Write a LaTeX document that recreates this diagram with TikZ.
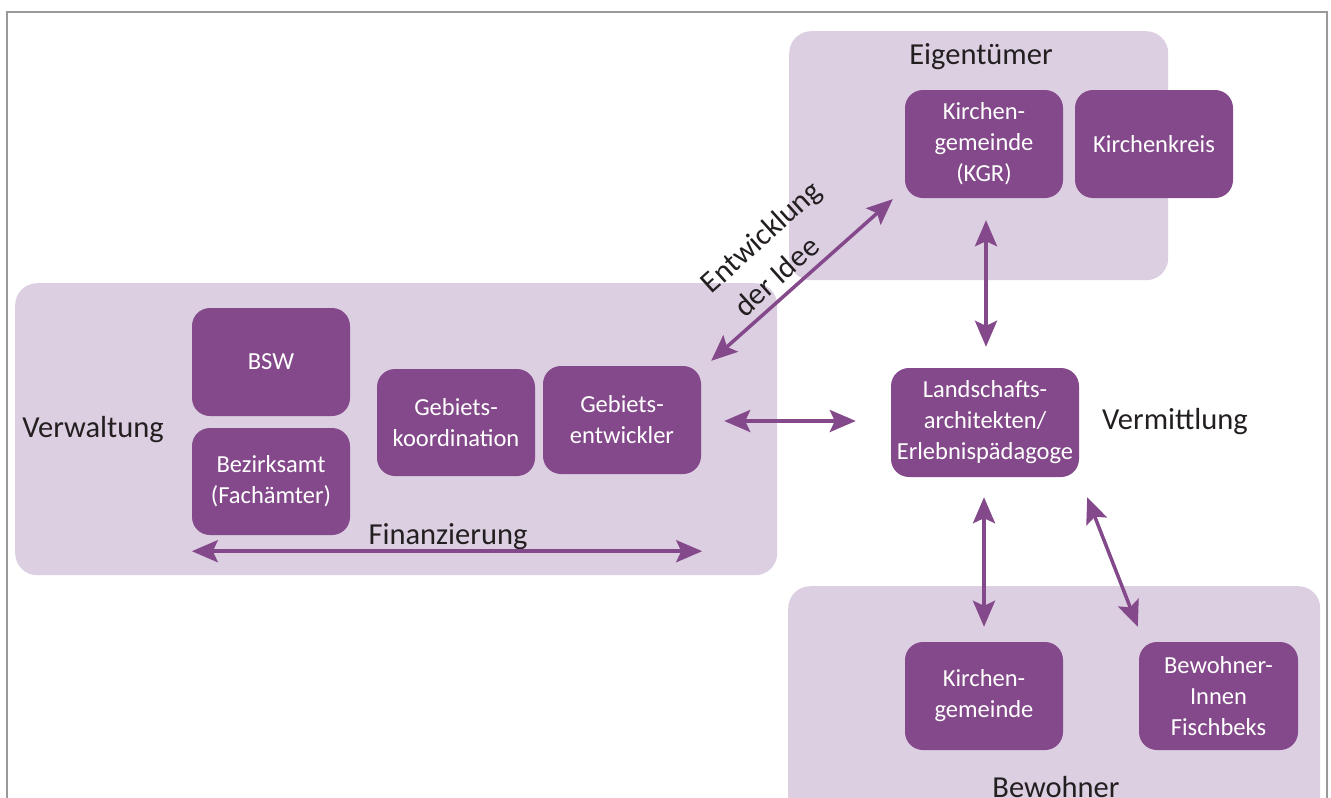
\documentclass[tikz,border=0pt]{standalone}
\usepackage{fontspec}
\setmainfont{Carlito}
\usetikzlibrary{arrows.meta,calc}
\definecolor{dk}{RGB}{132,73,138}
\definecolor{lt}{RGB}{220,207,225}
\definecolor{fr}{RGB}{153,153,153}
\definecolor{tx}{RGB}{35,31,32}
\begin{document}
\begin{tikzpicture}[x=1pt,y=-1pt,
  grp/.style={fill=lt, rounded corners=22pt, inner sep=0pt, anchor=north west},
  box/.style={fill=dk, text=white, rounded corners=18pt, minimum width=158pt, minimum height=108pt, align=center, inner sep=0pt, font=\fontsize{24.5}{31}\selectfont},
  lab/.style={text=tx, font=\fontsize{30.5}{37}\selectfont, anchor=base, inner sep=0pt},
  tip/.tip={Stealth[length=26pt,width=22pt,inset=5pt]},
  conn/.style={draw=dk, line width=3.5pt, tip-tip}]
\clip (0,0) rectangle (1331,798);
\fill[white] (0,0) rectangle (1331,798);
\draw[fr, line width=2.5pt] (7,12) rectangle (1327,840);
% groups
\node[grp, minimum width=379pt, minimum height=249pt] (eig) at (789,31) {};
\node[grp, minimum width=762pt, minimum height=292pt] (ver) at (15,283) {};
\node[grp, minimum width=532pt, minimum height=260pt] (bew) at (788,586) {};
% boxes
\node[box] (kgr) at (984,144) {Kirchen-\\gemeinde\\(KGR)};
\node[box] (kk) at (1154,144) {Kirchenkreis};
\node[box] (bsw) at (271,362) {BSW};
\node[box, minimum height=107pt] (bez) at (271,481.5) {Bezirksamt\\(Fachämter)};
\node[box, minimum height=107pt] (gk) at (456,422.5) {Gebiets-\\koordination};
\node[box] (ge) at (622,420) {Gebiets-\\entwickler};
\node[box, minimum width=188pt, minimum height=109pt] (la) at (985,422.5) {Landschafts-\\architekten/\\Erlebnispädagoge};
\node[box] (kg2) at (984,696) {Kirchen-\\gemeinde};
\node[box, minimum width=159pt] (bi) at (1218.5,696) {Bewohner-\\Innen\\Fischbeks};
% labels
\node[lab] (leig) at (981,64) {Eigentümer};
\node[lab] (lver) at (93,437) {Verwaltung};
\node[lab] (lverm) at (1175,429) {Vermittlung};
\node[lab] (lfin) at (448,544) {Finanzierung};
\node[lab] (lbew) at (1056,797) {Bewohner};
\node[lab, anchor=center, align=center, rotate=42, font=\fontsize{30.5}{40}\selectfont] (lidee) at (774,251) {Entwicklung\\der Idee\hspace*{30pt}};
% connectors
\draw[conn] ($(ge.north east)+(10,-5)$) -- ($(kgr.south west)+(-12,1)$);
\draw[conn] ($(ge.east)+(23,1)$) -- ($(la.west)+(-35,-1.5)$);
\draw[conn] ($(bez.south west)+(0,16)$) -- ($(ge.east |- bez.south)+(1,16)$);
\draw[conn] ($(kgr.south)+(2,22)$) -- ($(la.north)+(1,-21)$);
\draw[conn] ($(la.south)+(-1,20)$) -- ($(kg2.north)+(0,-15)$);
\draw[conn] ($(la.south east)+(8,20)$) -- ($(bi.north west)+(-1,-15)$);
\end{tikzpicture}
\end{document}
